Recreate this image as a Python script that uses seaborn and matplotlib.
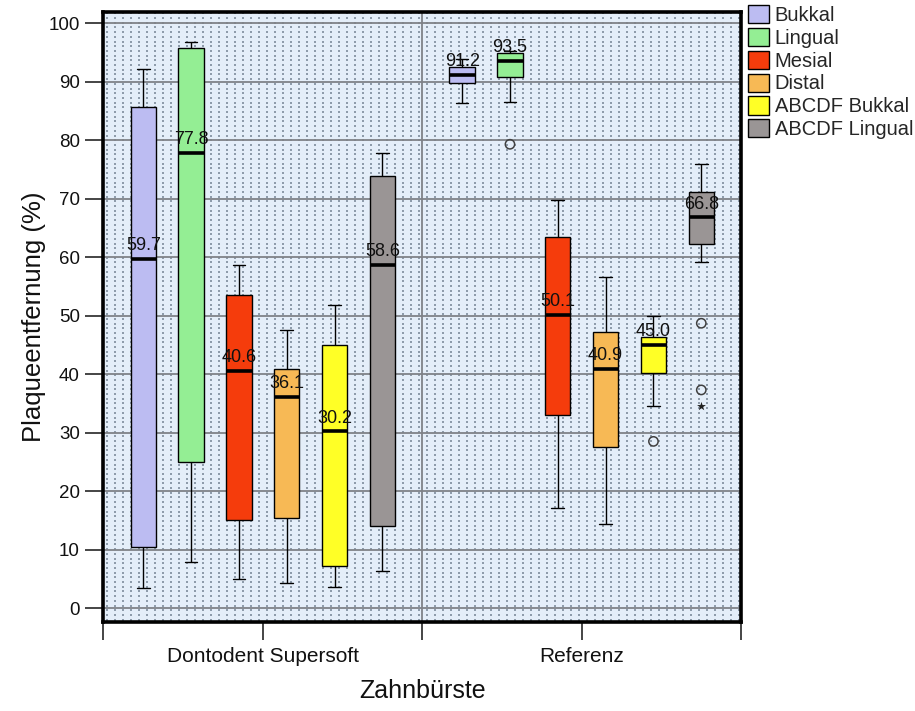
import numpy as np
import pandas as pd
import matplotlib.pyplot as plt
from matplotlib.ticker import FixedLocator
import seaborn as sns

# Kategorien
groups = ['Dontodent Supersoft', 'Referenz']
areas = ['Bukkal', 'Lingual', 'Mesial', 'Distal', 'ABCDF Bukkal', 'ABCDF Lingual']
colors = ['#bcbcf2', '#94ee94', '#f53c0c', '#f7b955', '#ffff26', '#9a9595']

# Kennwerte je Fläche: Whisker unten, Q1, Median, Q3, Whisker oben
supersoft_low = [3.4, 7.9, 5.0, 4.3, 3.6, 6.3]
supersoft_q1 = [10.4, 25.0, 15.0, 15.4, 7.2, 14.0]
supersoft_median = [59.7, 77.8, 40.6, 36.1, 30.2, 58.6]
supersoft_q3 = [85.6, 95.8, 53.5, 40.8, 45.0, 73.8]
supersoft_high = [92.2, 96.8, 58.7, 47.5, 51.8, 77.8]
supersoft_outliers = [[], [], [], [], [], []]
supersoft_extremes = [[], [], [], [], [], []]

referenz_low = [86.3, 86.5, 17.1, 14.4, 34.5, 59.1]
referenz_q1 = [89.7, 90.8, 33.0, 27.5, 40.2, 62.2]
referenz_median = [91.2, 93.5, 50.1, 40.9, 45.0, 66.8]
referenz_q3 = [92.5, 94.9, 63.4, 47.2, 46.3, 71.1]
referenz_high = [93.8, 95.2, 69.7, 56.6, 49.9, 75.9]
referenz_outliers = [[], [79.3], [], [], [28.5], [48.7, 37.3]]
referenz_extremes = [[], [], [], [], [], [34.5]]

stats = {
    'Dontodent Supersoft': (supersoft_low, supersoft_q1, supersoft_median, supersoft_q3,
                            supersoft_high, supersoft_outliers, supersoft_extremes),
    'Referenz': (referenz_low, referenz_q1, referenz_median, referenz_q3,
                 referenz_high, referenz_outliers, referenz_extremes),
}


def box_sample(lo, q1, med, q3, hi, extra):
    # Stichprobe mit 4k+1 Werten, deren Quartile genau auf q1/med/q3 fallen
    below = sorted(v for v in extra if v < q1)
    above = sorted(v for v in extra if v > q3)
    k = max(len(below), len(above)) + 1
    lower = below + [lo] * (k - len(below))
    upper = [hi] * (k - len(above)) + above
    return lower + [q1] * k + [med] * k + [q3] + upper


rows = []
for g in groups:
    lo, a, m, b, hi, outs, extr = stats[g]
    for j, area in enumerate(areas):
        for v in box_sample(lo[j], a[j], m[j], b[j], hi[j], outs[j] + extr[j]):
            rows.append((g, area, v))
df = pd.DataFrame(rows, columns=['Zahnbürste', 'Fläche', 'Plaqueentfernung'])

sns.set_style('white')
plt.rcParams['font.family'] = ['Liberation Sans', 'DejaVu Sans']

fig = plt.figure(figsize=(9.15, 7.11), dpi=100)
ax = fig.add_axes([0.113, 0.125, 0.697, 0.858])

# Hintergrund: hellblau mit Punktraster (Spalten ~8 px, Zeilen ~4.7 px)
ax.set_facecolor('#e4eef9')
gx, gy = np.meshgrid(np.arange(0.006, 1, 8 / 638), np.arange(0.004, 1, 4.7 / 610))
ax.scatter(gx.ravel(), gy.ravel(), transform=ax.transAxes, marker='s', s=0.9,
           color='#8e9cab', linewidths=0, zorder=0.2)
ax.set_axisbelow(True)
ax.yaxis.grid(True, color='#7f8287', linewidth=1.3, zorder=0.5)
ax.axvline(0.5, color='#7f8287', linewidth=1.3, zorder=0.5)

width = 0.9
sns.boxplot(data=df, x='Zahnbürste', y='Plaqueentfernung', hue='Fläche',
            order=groups, hue_order=areas, palette=dict(zip(areas, colors)),
            saturation=1, width=width, gap=0.47, whis=1.5, showfliers=False,
            linecolor='black', linewidth=1.0,
            medianprops=dict(linewidth=2.6, color='black'), ax=ax)

# Ausreißer, Extremwerte und Medianbeschriftung
slot = width / len(areas)
for gi, g in enumerate(groups):
    lo, a, m, b, hi, outs, extr = stats[g]
    for j in range(len(areas)):
        x = gi - width / 2 + slot * (j + 0.5)
        if outs[j]:
            ax.scatter([x] * len(outs[j]), outs[j], marker='o', s=45,
                       facecolors='none', edgecolors='#404040', linewidths=1.1, zorder=4)
        if extr[j]:
            ax.scatter([x] * len(extr[j]), extr[j], marker='*', s=45,
                       color='#202020', linewidths=0, zorder=4)
        ax.annotate(f'{m[j]:.1f}', (x, m[j]), xytext=(0, 3.5), textcoords='offset points',
                    ha='center', va='bottom', fontsize=13, color='#111111', zorder=5)

ax.set_xlim(-0.5, 1.5)
ax.set_ylim(-2.4, 101.9)
ax.set_yticks(np.arange(0, 101, 10))
ax.xaxis.set_minor_locator(FixedLocator([-0.5, 0.5, 1.5]))
ax.tick_params(axis='y', which='major', direction='out', length=13, width=1.2,
               labelsize=13.5, left=True, pad=4, labelcolor='#111111')
ax.tick_params(axis='x', which='both', direction='out', length=13, width=1.2,
               bottom=True, labelsize=15, pad=5, labelcolor='#111111')
for s in ax.spines.values():
    s.set_visible(True)
    s.set_linewidth(2.6)
    s.set_color('black')

ax.set_ylabel('Plaqueentfernung (%)', fontsize=18.5, labelpad=2, color='#111111')
ax.set_xlabel('Zahnbürste', fontsize=18, labelpad=9, color='#111111')

sns.move_legend(ax, 'upper left', bbox_to_anchor=(1.01, 1.012), frameon=False, title=None,
                fontsize=14.5, handlelength=1.05, handleheight=1.0, handletextpad=0.3,
                labelspacing=0.15, borderaxespad=0, borderpad=0)

fig.savefig('out.png', dpi=100)
